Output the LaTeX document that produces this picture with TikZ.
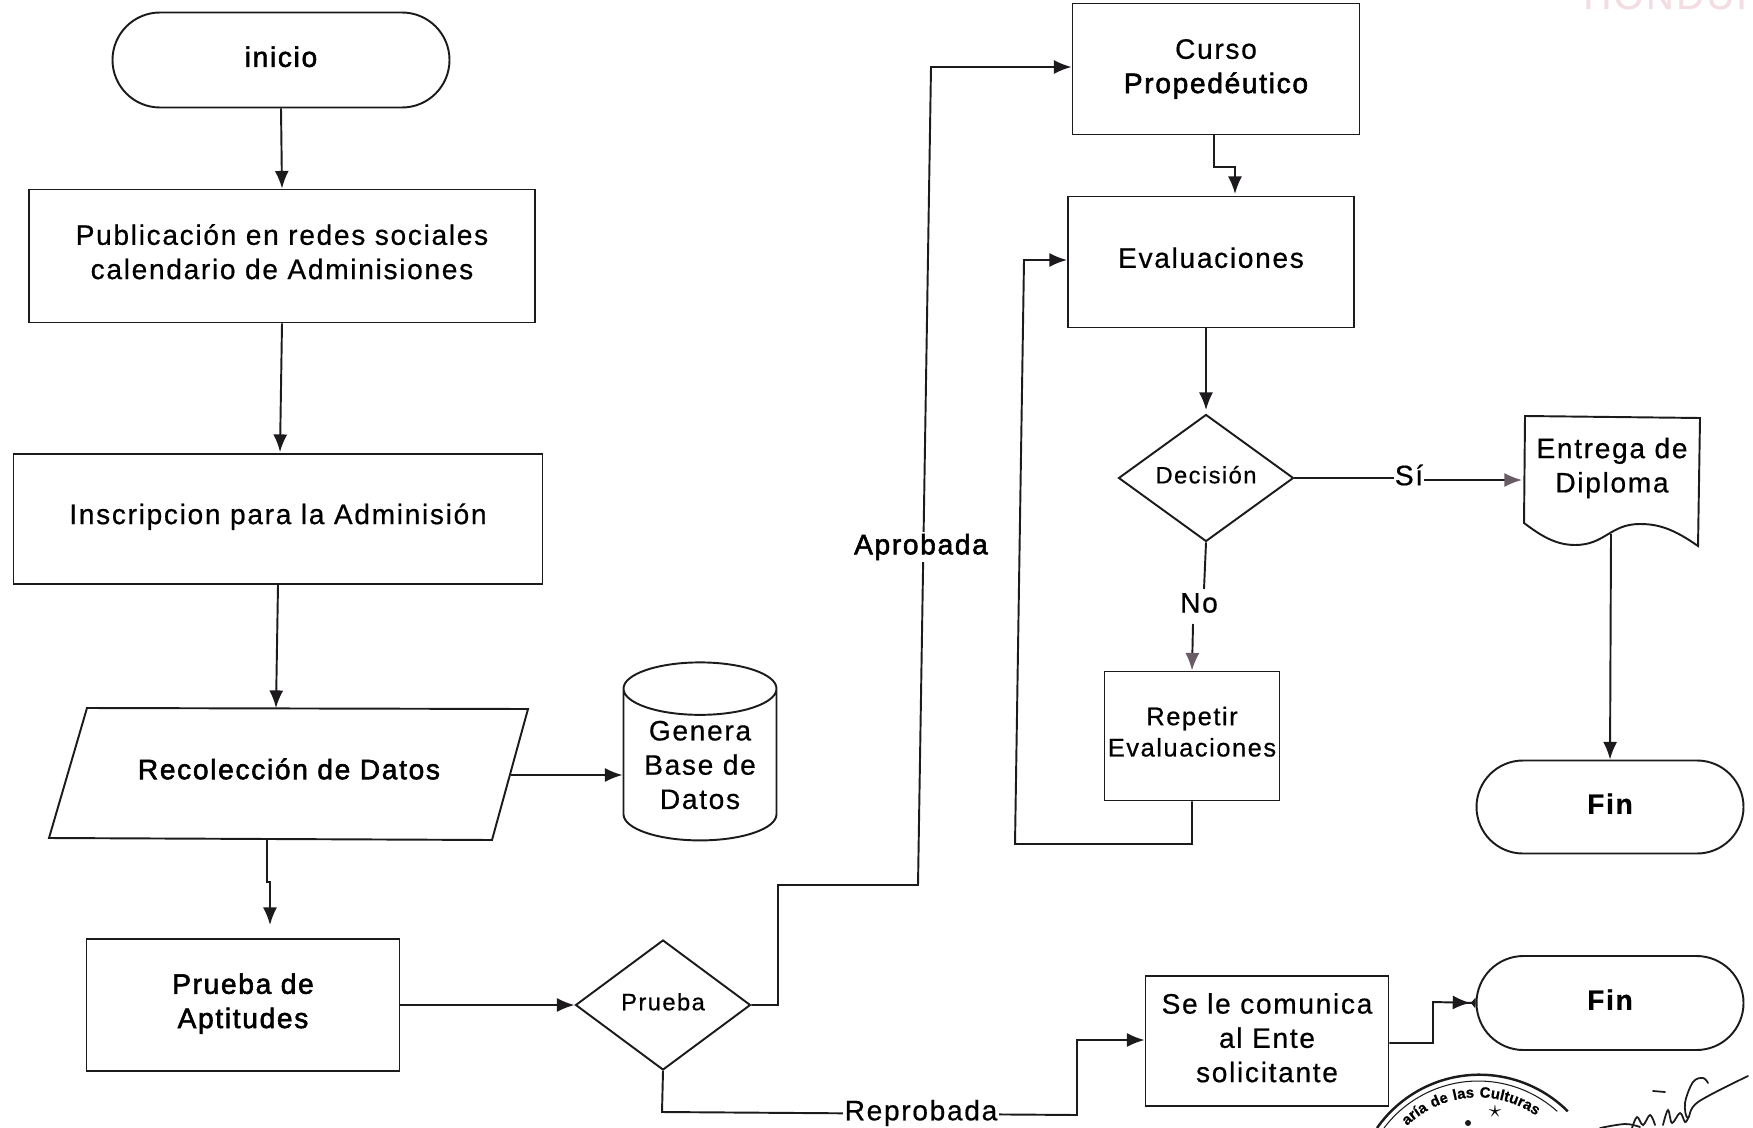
\documentclass[tikz,border=0pt]{standalone}
\usepackage{fontspec}
\setmainfont{Liberation Sans}[LetterSpace=6,FakeBold=.6]
\newfontfamily\medfont{Liberation Sans}[LetterSpace=6,FakeBold=2]
\usetikzlibrary{arrows.meta,shapes.geometric,shapes.misc,decorations.text}
\definecolor{inkline}{HTML}{1C1A1C}
\definecolor{inkgray}{HTML}{6A5C66}
\definecolor{paleroja}{HTML}{F3DDE2}
\newcommand{\txtbig}{\fontsize{16}{19.5}\selectfont}
\newcommand{\txtmid}{\fontsize{14.5}{17.8}\selectfont}
\newcommand{\txtsml}{\fontsize{13.5}{16}\selectfont}
\tikzset{
  boxsize/.style 2 args={minimum width=#1*0.02cm,minimum height=#2*0.02cm},
  inknode/.style={draw=inkline,line width=1.1pt,inner sep=0pt,align=center,font=\txtbig},
  procbox/.style={inknode,rectangle},
  termbox/.style={inknode,rounded rectangle,font=\txtbig\bfseries},
  decbox/.style={inknode,diamond,font=\txtsml},
  lbl/.style={inner sep=1pt,fill=white,font=\txtbig},
  conn/.style={draw=inkline,line width=1.1pt,-{Latex[length=10pt,width=8pt]}},
  plainconn/.style={draw=inkline,line width=1.1pt},
  grayconn/.style={conn,-{Latex[length=10pt,width=8pt,color=inkgray,fill=inkgray]}}
}
\begin{document}
\begin{tikzpicture}[x=0.02cm,y=-0.02cm]
   \clip (0,0) rectangle (1753,1128);

   \node[termbox,boxsize={337}{95},font=\txtbig\medfont,text depth=3.8pt] (inicio) at (281,60) {inicio};
   \node[procbox,boxsize={506}{133},text depth=5pt] (pub)  at (282,256) {Publicación en redes sociales\\calendario de Adminisiones};
   \node[procbox,boxsize={529}{130},text depth=6pt] (insc) at (278,519) {Inscripcion para la Adminisión};
   \draw[inkline,line width=1.1pt] (87,708) -- (528,709) -- (492,840) -- (49,838) -- cycle;
   \node[inner sep=0pt,font=\txtbig\medfont] (recol) at (289,769) {Recolección de Datos};
   \node[inknode,cylinder,shape border rotate=90,aspect=.47,boxsize={153}{178}] (base) at (700,765) {Genera\\Base de\\Datos};
   \node[procbox,boxsize={313}{132},font=\txtbig\medfont,text depth=4.9pt] (apt) at (243,1005) {Prueba de\\Aptitudes};
   \node[decbox,boxsize={175}{130},text depth=3.8pt] (prueba) at (663,1005) {Prueba};
   \node[procbox,boxsize={287}{131}] (curso) at (1216,69) {Curso\\{\medfont Propedéutico}};
   \node[procbox,boxsize={286}{131},text depth=5pt] (eval) at (1211,262) {Evaluaciones};
   \node[decbox,boxsize={175}{127},text depth=3.8pt] (decis) at (1206,478) {Decisión};
   \node[procbox,boxsize={175}{129},font=\txtmid,text depth=5pt] (repetir) at (1192,736) {Repetir\\Evaluaciones};
   \node[termbox,boxsize={267}{93},text depth=3.8pt] (fina) at (1610,807) {Fin};
   \node[procbox,boxsize={243}{130},text depth=3.8pt] (comunica) at (1267,1041) {Se le comunica\\al Ente\\solicitante};
   \node[termbox,boxsize={267}{94},text depth=3.8pt] (finb) at (1610,1003) {Fin};

   \draw[draw=inkline,line width=1.1pt] (1525,416) -- (1700,418) -- (1698,546)
      .. controls (1675,530) and (1660,524) .. (1640,524)
      .. controls (1610,524) and (1605,545) .. (1575,545)
      .. controls (1555,545) and (1540,535) .. (1524,523) -- cycle;
   \node[inner sep=0pt,align=center,font=\txtbig] (entrega) at (1612,468) {Entrega de\\Diploma};
   \coordinate (entregab) at (1611,534);
   \coordinate (entregal) at (1522,480);

   \coordinate (recolt) at (276,708);
   \coordinate (recole) at (511,775);
   \coordinate (recolb) at (267,840);
   \coordinate (aptt) at (270,925);
   \coordinate (noa) at (1204,589);
   \coordinate (nob) at (1193,624);
   \coordinate (sia) at (1394,478);
   \coordinate (sib) at (1424,480);

   \draw[conn] (inicio.south) -- (pub.north);
   \draw[conn] (pub.south) -- (280,452);
   \draw[conn] (insc.south) -- (recolt);
   \draw[conn] (recolb) -- (267,882) -- (270,882) -- (aptt);
   \draw[conn] (recole) -- (recole -| base.west);
   \draw[conn] (apt.east) -- (prueba.west);
   \draw[conn] (prueba.east) -- (778,1005) -- (778,885) -- (918,885) -- (931,67) -- (curso.west |- 0,67);
   \draw[conn] (prueba.south) -- (662,1112) -- (1077,1115) -- (1077,1040) -- (comunica.west |- 0,1040);
   \draw[conn] (1214,135) -- (1214,167) -- (1235,167) -- (1235,194);
   \draw[conn,shorten >=2pt] (decis.north |- eval.south) -- (decis.north);
   \draw[plainconn] (decis.east) -- (sia);
   \draw[grayconn] (sib) -- (entregal);
   \draw[plainconn] (decis.south) -- (noa);
   \draw[grayconn] (nob) -- (repetir.north);
   \draw[conn] (repetir.south) -- (1192,844) -- (1015,844) -- (1024,260) -- (eval.west |- 0,260);
   \draw[conn] (entregab) -- (fina.north);
   \draw[draw=inkline,line width=1.1pt,-{Latex[length=10pt,width=8pt]Latex[reversed,length=3pt,width=7pt]}] (comunica.east |- 0,1043) -- (1433,1043) -- (1433,1002) -- (finb.west);

   \node[lbl,font=\txtbig\medfont] (aprobada) at (921,547) {Aprobada};
   \node[lbl] (reprobada) at (921,1113) {Reprobada};
   \node[lbl,fill=none] (si) at (1409,475) {Sí};
   \node[lbl,fill=none] (no) at (1199,603) {No};

   \node[anchor=base west,text=paleroja,font=\fontsize{22}{22}\selectfont,inner sep=0pt] (hond) at (1583,9) {HONDURAS};

   \draw[inkline,line width=1.4pt] (1377,1128) arc[start angle=-145,end angle=-45,radius=125];
   \draw[inkline,line width=.6pt] (1384,1128) arc[start angle=-143,end angle=-48,radius=118];
   \path[decorate,decoration={text along path,text align=left,text={|\fontsize{8.5}{10}\bfseries\selectfont|aría de las Culturas}}]
      (1407,1126) arc[start angle=-134,end angle=-30,radius=102];
   \node[inner sep=0pt,font=\fontsize{14}{14}\selectfont] (estrella) at (1495,1112) {$\star$};
   \fill[inkline] (1468,1123) circle[radius=3];

   \draw[inkline,line width=1pt,line cap=round] plot[smooth,tension=.6] coordinates {(1748,1076) (1698,1102) (1688,1118) (1685,1103) (1693,1082) (1703,1078) (1708,1083)};
   \draw[inkline,line width=1pt,line cap=round] (1653,1091) -- (1665,1092);
   \draw[inkline,line width=1pt,line cap=round] plot[smooth,tension=.6] coordinates {(1600,1128) (1625,1124) (1640,1127)};
   \draw[inkline,line width=1pt,line cap=round] plot[smooth,tension=.6] coordinates {(1632,1128) (1637,1117) (1643,1125) (1650,1115) (1655,1125)};
   \draw[inkline,line width=1pt,line cap=round] plot[smooth,tension=.6] coordinates {(1663,1125) (1668,1110) (1672,1123) (1680,1113) (1685,1122) (1688,1118)};
\end{tikzpicture}
\end{document}
